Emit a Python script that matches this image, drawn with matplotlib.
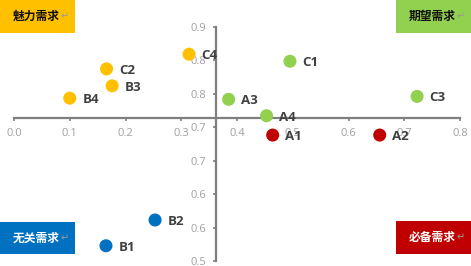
import numpy as np
import matplotlib
matplotlib.use("Agg")
import matplotlib.pyplot as plt
import matplotlib.ticker as ticker
from matplotlib.patches import Rectangle

plt.rcParams["font.family"] = ["Noto Sans CJK SC", "DejaVu Sans"]

# data
labels = ["A1", "A2", "A3", "A4", "B1", "B2", "B3", "B4", "C1", "C2", "C3", "C4"]
x_vals = [0.464, 0.656, 0.385, 0.453, 0.165, 0.253, 0.176, 0.100, 0.495, 0.166, 0.723, 0.314]
y_vals = [0.715, 0.715, 0.776, 0.748, 0.526, 0.570, 0.799, 0.778, 0.841, 0.828, 0.781, 0.853]
point_colors = ["#C00000", "#C00000", "#92D050", "#92D050", "#0070C0", "#0070C0",
                "#FFC000", "#FFC000", "#92D050", "#FFC000", "#92D050", "#FFC000"]

x_ticks = [0.0, 0.1, 0.2, 0.3, 0.4, 0.5, 0.6, 0.7, 0.8]
y_ticks = np.linspace(0.5, 0.9, 8)

quadrants = ["魅力需求", "期望需求", "无关需求", "必备需求"]
quad_colors = ["#FFC000", "#92D050", "#0070C0", "#C00000"]
quad_text = ["#111111", "#111111", "white", "white"]

W, H = 471, 266
fig = plt.figure(figsize=(W / 100, H / 100), dpi=100)
ax = fig.add_axes([14 / W, 1 - 261 / H, 446 / W, 234.3 / H])

ax.scatter(x_vals, y_vals, s=88, c=point_colors, linewidths=0, zorder=3)
for lab, x, y in zip(labels, x_vals, y_vals):
    ax.annotate(lab, (x, y), xytext=(9, -1), textcoords="offset points",
                ha="left", va="center", fontsize=9.5, fontweight="bold",
                color="#404040", family=["Open Sans", "DejaVu Sans"], zorder=4)

# axes cross at the mean point
xm, ym = np.mean(x_vals), np.mean(y_vals)
ax.set_xlim(0, 0.8)
ax.set_ylim(0.5, 0.9)
for side in ["top", "right"]:
    ax.spines[side].set_visible(False)
ax.spines["left"].set_position(("data", xm))
ax.spines["bottom"].set_position(("data", ym))
for side in ["left", "bottom"]:
    ax.spines[side].set_color("#7F7F7F")
    ax.spines[side].set_linewidth(1.6)
ax.set_xticks(x_ticks)
ax.set_yticks(y_ticks)
ax.xaxis.set_major_formatter(ticker.FormatStrFormatter("%.1f"))
ax.yaxis.set_major_formatter(ticker.FormatStrFormatter("%.1f"))
ax.tick_params(colors="#7F7F7F", labelcolor="#A0A0A0", labelsize=8,
               length=2, width=1.2, direction="out")
ax.tick_params(axis="x", pad=5)
ax.tick_params(axis="y", pad=5)
for t in ax.get_xticklabels() + ax.get_yticklabels():
    t.set_family(["Open Sans", "DejaVu Sans"])
ax.patch.set_alpha(0)

# quadrant label boxes (pixel layout)
boxes = [(0, 0), (396, 0), (0, 221.5), (396, 221)]
for (bx, by), name, fc, tc in zip(boxes, quadrants, quad_colors, quad_text):
    fig.patches.append(Rectangle((bx / W, 1 - (by + 32.5) / H), 75 / W, 32.5 / H,
                                 transform=fig.transFigure, facecolor=fc,
                                 edgecolor="none", zorder=5))
    cy = 1 - (by + 16.5) / H
    fig.text((bx + 13) / W, cy, name, ha="left", va="center", fontsize=8.5,
             fontweight="bold", color=tc, zorder=6)
    fig.text((bx + 61) / W, cy, "↵", ha="left", va="center", fontsize=7,
             color="#9A9A9A", family=["DejaVu Sans"], zorder=6)

fig.savefig("out.png", dpi=100)
